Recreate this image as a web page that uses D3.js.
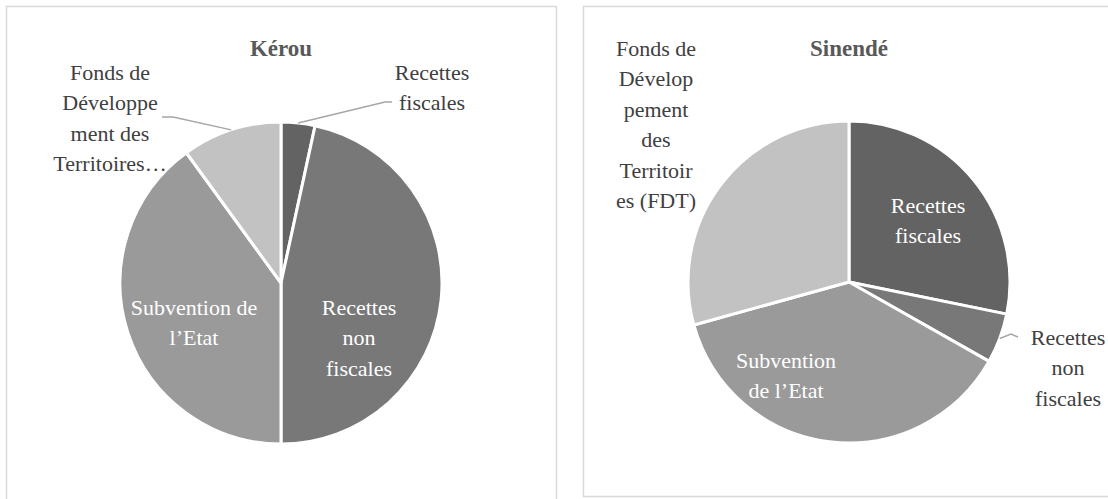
<!DOCTYPE html>
<html>
<head>
<meta charset="utf-8">
<script src="https://cdn.jsdelivr.net/npm/d3@7"></script>
<style>
  body { margin: 0; background: #fff; }
  svg { display: block; }
</style>
</head>
<body>
<svg id="chart" width="1108" height="499" font-family="'Liberation Serif', 'DejaVu Serif', serif"></svg>
<script>
// Data (shares in %)
const categories    = ["Recettes fiscales", "Recettes non fiscales", "Subvention de l’Etat", "Fonds de Développement des Territoires (FDT)"];
const kerouValues   = [3.4, 46.6, 40.0, 10.0];
const sinendeValues = [28.2, 5.0, 37.5, 29.3];
const sliceColors   = ["#636363", "#787878", "#9a9a9a", "#c2c2c2"];

// wrapped label lines, as in the picture
const kerouLabels = [
  ["Recettes", "fiscales"],
  ["Recettes", "non", "fiscales"],
  ["Subvention de", "l’Etat"],
  ["Fonds de", "Développe", "ment des", "Territoires…"]
];
const sinendeLabels = [
  ["Recettes", "fiscales"],
  ["Recettes", "non", "fiscales"],
  ["Subvention", "de l’Etat"],
  ["Fonds de", "Dévelop", "pement", "des", "Territoir", "es (FDT)"]
];

const svg = d3.select("#chart");
const fontSize = 22;
const lineH    = 30.5;
const radius   = 161;

const color = d3.scaleOrdinal(categories, sliceColors);
const pie   = d3.pie().value(d => d.value).sort(null);
const arc   = d3.arc().innerRadius(0).outerRadius(radius);

// panel frames
svg.append("rect")
  .attr("x", 6.5).attr("y", 6.5).attr("width", 550).attr("height", 520)
  .attr("fill", "none").attr("stroke", "#d9d9d9").attr("stroke-width", 1.5);
svg.append("rect")
  .attr("x", 583.5).attr("y", 6.5).attr("width", 560).attr("height", 490)
  .attr("fill", "none").attr("stroke", "#d9d9d9").attr("stroke-width", 1.5);

function drawPie(opt) {
  const data = categories.map((c, i) => ({ cat: c, value: opt.values[i], lines: opt.labels[i] }));
  const g = svg.append("g").attr("transform", `translate(${opt.cx},${opt.cy})`);

  svg.append("text")
    .attr("x", opt.cx).attr("y", 48)
    .attr("dy", "0.35em")
    .attr("text-anchor", "middle")
    .attr("fill", "#595959")
    .attr("font-size", 23)
    .attr("font-weight", "bold")
    .text(opt.title);

  const arcs = pie(data);

  g.selectAll("path")
    .data(arcs)
    .enter()
    .append("path")
    .attr("d", arc)
    .attr("fill", d => color(d.data.cat))
    .attr("stroke", "#fff")
    .attr("stroke-width", 3)
    .attr("stroke-linejoin", "round");

  arcs.forEach((d, i) => {
    const pos = opt.labelPos[i];
    const inside = pos.inside;
    const t = g.append("text")
      .attr("text-anchor", "middle")
      .attr("fill", inside ? "#ffffff" : "#404040")
      .attr("font-size", fontSize);
    d.data.lines.forEach((ln, k) => {
      t.append("tspan")
        .attr("x", pos.dx)
        .attr("y", pos.dy + k * lineH)
        .attr("dy", "0.35em")
        .text(ln);
    });

    if (pos.leader) {
      const mid = (d.startAngle + d.endAngle) / 2;
      const p0 = [Math.sin(mid) * radius, -Math.cos(mid) * radius];
      const pts = [p0].concat(pos.leader);
      g.append("path")
        .attr("d", d3.line()(pts))
        .attr("fill", "none")
        .attr("stroke", "#a6a6a6")
        .attr("stroke-width", 1.5);
    }
  });
}

drawPie({
  title: "Kérou",
  cx: 281, cy: 283,
  values: kerouValues,
  labels: kerouLabels,
  labelPos: [
    { dx: 151, dy: -211, leader: [[104, -181], [111, -181]] },
    { dx: 78,  dy: 24, inside: true },
    { dx: -87, dy: 24, inside: true },
    { dx: -171, dy: -211, leader: [[-108, -166], [-119, -166]] }
  ]
});

drawPie({
  title: "Sinendé",
  cx: 849, cy: 282,
  values: sinendeValues,
  labels: sinendeLabels,
  labelPos: [
    { dx: 79,  dy: -77, inside: true },
    { dx: 219, dy: 55, leader: [[162, 52], [169, 55]] },
    { dx: -63, dy: 78, inside: true },
    { dx: -193, dy: -234 }
  ]
});
</script>
</body>
</html>
